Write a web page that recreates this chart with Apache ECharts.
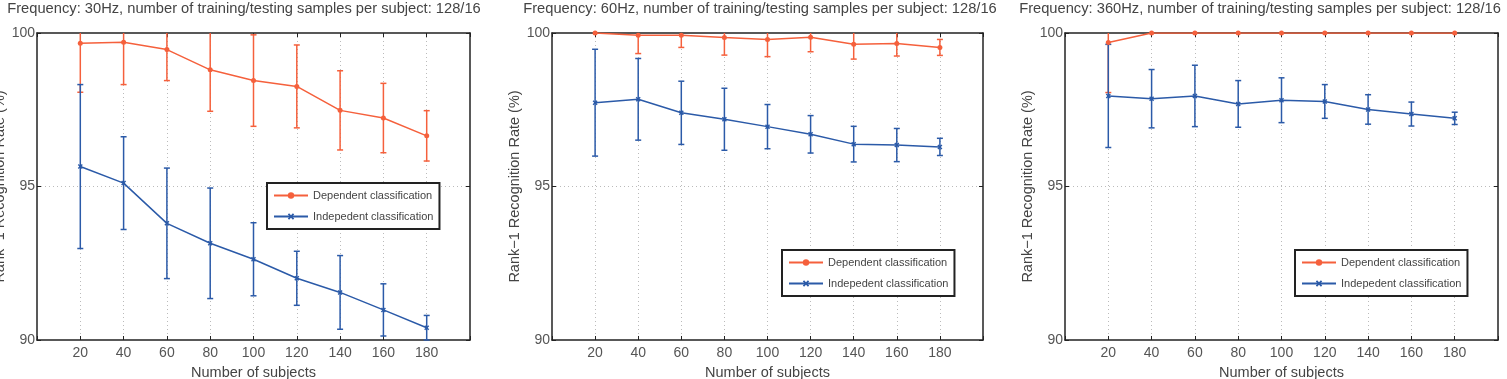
<!DOCTYPE html>
<html>
<head>
<meta charset="utf-8">
<script src="https://cdn.jsdelivr.net/npm/echarts@6/dist/echarts.min.js"></script>
<style>
  html, body { margin: 0; padding: 0; background: #fff; }
  #main { width: 1507px; height: 379px; }
</style>
</head>
<body>
<div id="main"></div>
<script>
// x values (number of subjects)
const subjects = [20, 40, 60, 80, 100, 120, 140, 160, 180];

// 30Hz
const dep30 = [99.67, 99.70, 99.46, 98.80, 98.45, 98.26, 97.48, 97.23, 96.65];
const dep30Err = [1.60, 1.38, 1.01, 1.35, 1.49, 1.35, 1.29, 1.13, 0.82];
const ind30 = [95.65, 95.11, 93.80, 93.15, 92.63, 92.01, 91.55, 90.98, 90.40];
const ind30Err = [2.67, 1.51, 1.80, 1.80, 1.19, 0.88, 1.20, 0.85, 0.40];

// 60Hz
const dep60 = [100.0, 99.93, 99.93, 99.85, 99.79, 99.86, 99.63, 99.66, 99.53];
const dep60Err = [0, 0.60, 0.40, 0.57, 0.56, 0.47, 0.48, 0.41, 0.26];
const ind60 = [97.73, 97.84, 97.40, 97.19, 96.95, 96.70, 96.38, 96.35, 96.29];
const ind60Err = [1.74, 1.33, 1.03, 1.01, 0.72, 0.61, 0.58, 0.54, 0.28];

// 360Hz
const dep360 = [99.69, 100, 100, 100, 100, 100, 100, 100, 100];
const dep360Err = [1.63, 0, 0, 0, 0, 0, 0, 0, 0];
const ind360 = [97.95, 97.86, 97.95, 97.69, 97.81, 97.77, 97.51, 97.36, 97.22];
const ind360Err = [1.68, 0.95, 1.00, 0.76, 0.73, 0.55, 0.48, 0.39, 0.20];

const titles = [
  "Frequency: 30Hz, number of training/testing samples per subject: 128/16",
  "Frequency: 60Hz, number of training/testing samples per subject: 128/16",
  "Frequency: 360Hz, number of training/testing samples per subject: 128/16",
];
const depName = "Dependent classification";
const indName = "Indepedent classification";

const Y_MIN = 90, Y_MAX = 100;
const ORANGE = "#f5603c";
const BLUE = "#2b5aa8";
const FONT = "Liberation Sans, Arial, sans-serif";

const panels = [
  { dep: dep30, depErr: dep30Err, ind: ind30, indErr: ind30Err,
    grid: { left: 37, top: 33, width: 433, height: 307 },
    titleCenter: 244, legend: { left: 267, top: 183 } },
  { dep: dep60, depErr: dep60Err, ind: ind60, indErr: ind60Err,
    grid: { left: 552, top: 33, width: 431, height: 307 },
    titleCenter: 760, legend: { left: 782, top: 250 } },
  { dep: dep360, depErr: dep360Err, ind: ind360, indErr: ind360Err,
    grid: { left: 1065, top: 33, width: 433, height: 307 },
    titleCenter: 1260, legend: { left: 1295, top: 250 } },
];

function pairs(xs, ys) {
  return xs.map((x, i) => [x, ys[i]]);
}
function triples(xs, ys, es) {
  return xs.map((x, i) => [x, ys[i], es[i]]);
}

// error bar drawn from mean +/- err, clipped to the axis range
function renderErr(color) {
  return function (params, api) {
    const x = api.value(0), m = api.value(1), e = api.value(2);
    if (!e) return;
    const hi = m + e, lo = m - e;
    const top = api.coord([x, Math.min(hi, Y_MAX)]);
    const bot = api.coord([x, Math.max(lo, Y_MIN)]);
    const cap = 3;
    const style = { stroke: color, lineWidth: 1.5 };
    const children = [
      { type: "line", shape: { x1: top[0], y1: top[1], x2: bot[0], y2: bot[1] }, style: style },
    ];
    if (hi <= Y_MAX) {
      children.push({ type: "line", shape: { x1: top[0] - cap, y1: top[1], x2: top[0] + cap, y2: top[1] }, style: style });
    }
    if (lo >= Y_MIN) {
      children.push({ type: "line", shape: { x1: bot[0] - cap, y1: bot[1], x2: bot[0] + cap, y2: bot[1] }, style: style });
    }
    return { type: "group", children: children };
  };
}

const crossPath = "path://M2,0L5,3L8,0L10,2L7,5L10,8L8,10L5,7L2,10L0,8L3,5L0,2Z";

const boxLine = { show: true, onZero: false, lineStyle: { color: "#222", width: 1.5 } };
const innerTick = { inside: true, length: 4, lineStyle: { color: "#222" } };
const dotted = { show: true, showMinLine: false, showMaxLine: false, lineStyle: { color: "#bbb", type: [1, 3], width: 1 } };
const hideZeroTwoHundred = (v) => (v === 0 || v === 200 ? "" : v);

const grids = [], xAxes = [], yAxes = [], series = [], titleList = [], legends = [];

panels.forEach((p, i) => {
  grids.push(Object.assign({ show: false, containLabel: false, outerBoundsMode: "none" }, p.grid));

  titleList.push({
    text: titles[i],
    left: p.titleCenter,
    top: 1,
    padding: 0,
    textAlign: "center",
    textStyle: { fontFamily: FONT, fontSize: 14.7, fontWeight: "normal", color: "#444" },
  });

  legends.push({
    data: [depName, indName],
    orient: "vertical",
    left: p.legend.left,
    top: p.legend.top,
    itemWidth: 34,
    itemHeight: 8,
    itemGap: 10,
    padding: [7, 6, 7, 6],
    borderColor: "#222",
    borderWidth: 2,
    backgroundColor: "#fff",
    selectedMode: false,
    textStyle: { fontFamily: FONT, fontSize: 11, color: "#444" },
  });

  // bottom and left axes carry the labels
  xAxes.push({
    gridIndex: i,
    type: "value",
    min: 0,
    max: 200,
    interval: 20,
    name: "Number of subjects",
    nameLocation: "middle",
    nameGap: 25,
    nameTextStyle: { fontFamily: FONT, fontSize: 14.5, color: "#444" },
    axisLine: boxLine,
    axisTick: innerTick,
    axisLabel: { margin: 6, fontFamily: FONT, fontSize: 14, color: "#555", formatter: hideZeroTwoHundred },
    splitLine: dotted,
  });

  yAxes.push({
    gridIndex: i,
    type: "value",
    min: Y_MIN,
    max: Y_MAX,
    interval: 5,
    name: "Rank\u22121 Recognition Rate (%)",
    nameLocation: "middle",
    nameGap: 28,
    nameTextStyle: { fontFamily: FONT, fontSize: 14.5, color: "#444" },
    axisLine: boxLine,
    axisTick: innerTick,
    axisLabel: { margin: 2, fontFamily: FONT, fontSize: 14, color: "#555" },
    splitLine: dotted,
  });
});

// top and right axes close the box
panels.forEach((p, i) => {
  xAxes.push({
    gridIndex: i, type: "value", position: "top", min: 0, max: 200, interval: 20,
    axisLine: boxLine, axisTick: innerTick, axisLabel: { show: false }, splitLine: { show: false },
  });
  yAxes.push({
    gridIndex: i, type: "value", position: "right", min: Y_MIN, max: Y_MAX, interval: 5,
    axisLine: boxLine, axisTick: innerTick, axisLabel: { show: false }, splitLine: { show: false },
  });
});

panels.forEach((p, i) => {
  series.push(
    {
      type: "custom",
      name: "depErr" + i,
      xAxisIndex: i, yAxisIndex: i,
      renderItem: renderErr(ORANGE),
      data: triples(subjects, p.dep, p.depErr),
      encode: { x: 0, y: 1 },
      z: 2,
      silent: true,
    },
    {
      type: "line",
      name: depName,
      xAxisIndex: i, yAxisIndex: i,
      data: pairs(subjects, p.dep),
      symbol: "circle",
      symbolSize: 5,
      color: ORANGE,
      lineStyle: { width: 1.5 },
      z: 3,
    },
    {
      type: "custom",
      name: "indErr" + i,
      xAxisIndex: i, yAxisIndex: i,
      renderItem: renderErr(BLUE),
      data: triples(subjects, p.ind, p.indErr),
      encode: { x: 0, y: 1 },
      z: 2,
      silent: true,
    },
    {
      type: "line",
      name: indName,
      xAxisIndex: i, yAxisIndex: i,
      data: pairs(subjects, p.ind),
      symbol: crossPath,
      symbolSize: 5,
      color: BLUE,
      lineStyle: { width: 1.5 },
      z: 3,
    }
  );
});

const myChart = echarts.init(document.getElementById("main"));
myChart.setOption({
  animation: false,
  title: titleList,
  legend: legends,
  grid: grids,
  xAxis: xAxes,
  yAxis: yAxes,
  series: series,
});
</script>
</body>
</html>
